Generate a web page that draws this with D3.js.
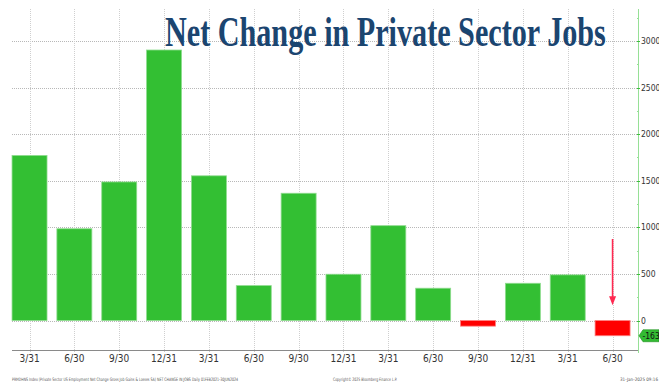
<!DOCTYPE html>
<html>
<head>
<meta charset="utf-8">
<script src="https://cdn.jsdelivr.net/npm/d3@7"></script>
<style>
  body { margin: 0; background: #fff; }
  svg { display: block; }
</style>
</head>
<body>
<svg id="svg" width="659" height="384"></svg>
<script>
// quarter-end labels, Q1 2021 .. Q2 2024
const quarters = ["3/31", "6/30", "9/30", "12/31", "3/31", "6/30", "9/30", "12/31",
                  "3/31", "6/30", "9/30", "12/31", "3/31", "6/30"];
// net change in private sector jobs (thousands)
const netChange = [1772, 985, 1487, 2903, 1553, 375, 1366, 497, 1018, 347, -60, 400, 490, -163];
const yTicks = [0, 500, 1000, 1500, 2000, 2500, 3000];
const yMinorTicks = [250, 750, 1250, 1750, 2250, 2750, 3250];
const lastValue = -163;

const title = "Net Change in Private Sector Jobs";
const footLeft = "PRMDHNS Index (Private Sector US Employment Net Change Gross Job Gains & Losses SA) NET CHANGE IN JOBS  Daily 01FEB2021-30JUN2024";
const footMid = "Copyright\u00a9 2025 Bloomberg Finance L.P.";
const footRight = "31-Jan-2025 09:16";

const svg = d3.select("#svg");

const plotLeft = 12, plotRight = 638, plotTop = 9, plotBottom = 350;
const labelFont = "Liberation Sans Narrow, DejaVu Sans Condensed, sans-serif";

let x = d3.scaleBand()
  .domain(d3.range(quarters.length))
  .range([7.1, 635])
  .paddingInner(0.22)
  .paddingOuter(0.11);

let y = d3.scaleLinear()
  .domain([-316, 3343])
  .range([plotBottom, plotTop]);

// grid
let grid = svg.append("g");
grid.selectAll("line.h")
  .data(yTicks)
  .enter().append("line")
  .attr("x1", plotLeft).attr("x2", plotRight)
  .attr("y1", d => Math.round(y(d)) + 0.5).attr("y2", d => Math.round(y(d)) + 0.5)
  .attr("stroke", "#b8b8b8").attr("stroke-dasharray", "1,1");
grid.selectAll("line.v")
  .data(d3.range(quarters.length))
  .enter().append("line")
  .attr("x1", i => Math.round(x(i) + x.bandwidth() / 2) + 0.5)
  .attr("x2", i => Math.round(x(i) + x.bandwidth() / 2) + 0.5)
  .attr("y1", plotTop).attr("y2", plotBottom + 2)
  .attr("stroke", "#cfcfcf").attr("stroke-dasharray", "1,1");

// title (behind the bars so the gridlines show between letters)
// squeezed horizontally to look like the condensed display face
let titleText = svg.append("text")
  .attr("font-family", "Liberation Serif, DejaVu Serif, serif")
  .attr("font-weight", "bold")
  .attr("font-size", 43)
  .attr("fill", "#1b4570")
  .text(title);
let natural = titleText.node().getComputedTextLength();
titleText.attr("transform", `translate(165,46) scale(${441 / natural},1)`);

// bars
svg.append("g").selectAll("rect")
  .data(netChange)
  .enter().append("rect")
  .attr("x", (d, i) => x(i))
  .attr("width", x.bandwidth())
  .attr("y", d => y(Math.max(0, d)))
  .attr("height", d => Math.abs(y(d) - y(0)))
  .attr("fill", d => d >= 0 ? "#33bf33" : "#ff0000")
  .attr("stroke", d => d >= 0 ? "#8fdc8f" : "#ff8080")
  .attr("stroke-width", 0.8);

// bottom axis line
svg.append("line")
  .attr("x1", plotLeft).attr("x2", plotRight)
  .attr("y1", plotBottom + 0.5).attr("y2", plotBottom + 0.5)
  .attr("stroke", "#8a8a8a");

// x labels
svg.append("g").selectAll("text")
  .data(quarters)
  .enter().append("text")
  .attr("x", (d, i) => x(i) + x.bandwidth() / 2)
  .attr("y", 362)
  .attr("text-anchor", "middle")
  .attr("font-family", labelFont)
  .attr("font-size", 10)
  .attr("fill", "#333")
  .text(d => d);

// right axis
let axisG = svg.append("g");
axisG.append("line")
  .attr("x1", plotRight + 0.5).attr("x2", plotRight + 0.5)
  .attr("y1", plotTop).attr("y2", plotBottom + 3)
  .attr("stroke", "#96e096");
axisG.selectAll("line.major")
  .data(yTicks)
  .enter().append("line")
  .attr("x1", plotRight - 1).attr("x2", plotRight + 2)
  .attr("y1", d => Math.round(y(d)) + 0.5).attr("y2", d => Math.round(y(d)) + 0.5)
  .attr("stroke", "#3cbf3c");
axisG.selectAll("line.minor")
  .data(yMinorTicks)
  .enter().append("line")
  .attr("x1", plotRight - 1).attr("x2", plotRight + 1)
  .attr("y1", d => Math.round(y(d)) + 0.5).attr("y2", d => Math.round(y(d)) + 0.5)
  .attr("stroke", "#96e096");
axisG.selectAll("text")
  .data(yTicks)
  .enter().append("text")
  .attr("x", plotRight + 3)
  .attr("y", d => y(d) + 3)
  .attr("font-family", labelFont)
  .attr("font-size", 8.5)
  .attr("fill", "#333")
  .text(d => d);

// last value tag
let tagY = y(lastValue);
svg.append("path")
  .attr("d", `M${plotRight + 1},${tagY} L${plotRight + 5},${tagY - 6} L659,${tagY - 6} L659,${tagY + 6} L${plotRight + 5},${tagY + 6} Z`)
  .attr("fill", "#33bb33")
  .attr("stroke", "#1f8f1f")
  .attr("stroke-width", 0.6);
svg.append("text")
  .attr("x", plotRight + 4.5).attr("y", tagY + 3)
  .attr("font-family", labelFont)
  .attr("font-size", 8.5)
  .attr("fill", "#111")
  .text(lastValue);

// red arrow pointing at the last bar
let ax = x(quarters.length - 1) + x.bandwidth() / 2;
svg.append("line")
  .attr("x1", ax).attr("x2", ax)
  .attr("y1", y(875)).attr("y2", y(200))
  .attr("stroke", "#ff2850").attr("stroke-width", 1.6);
svg.append("path")
  .attr("d", `M${ax - 3.5},${y(260)} L${ax + 3.5},${y(260)} L${ax},${y(165)} Z`)
  .attr("fill", "#ff2850");

// footer
let foot = svg.append("g")
  .attr("font-family", labelFont)
  .attr("font-size", 4.6)
  .attr("fill", "#555");
foot.append("text").attr("x", 12).attr("y", 381).attr("textLength", 226).attr("lengthAdjust", "spacingAndGlyphs").text(footLeft);
foot.append("text").attr("x", 333).attr("y", 381).attr("textLength", 64).attr("lengthAdjust", "spacingAndGlyphs").text(footMid);
foot.append("text").attr("x", 620).attr("y", 381).attr("textLength", 38).attr("lengthAdjust", "spacingAndGlyphs").text(footRight);
</script>
</body>
</html>
